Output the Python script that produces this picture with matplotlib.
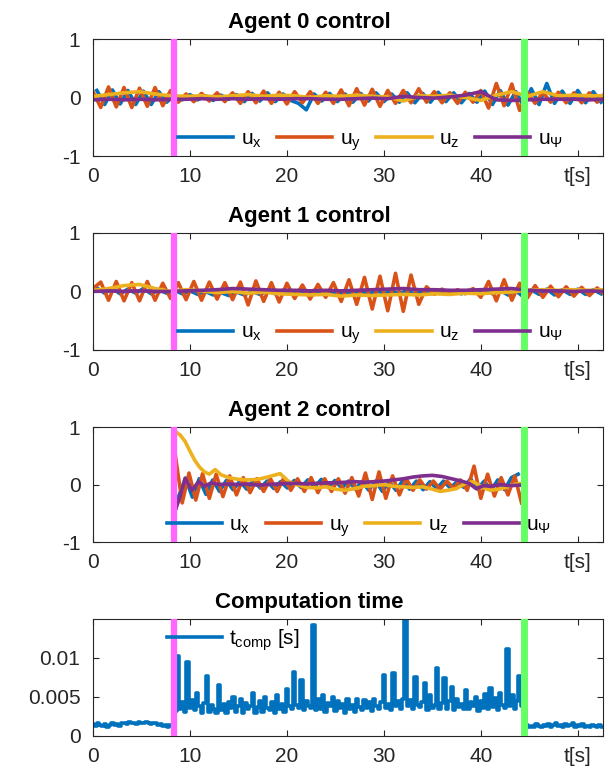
import numpy as np
import matplotlib
matplotlib.use("Agg")
import matplotlib.pyplot as plt

# ---------------------------------------------------------------------------
# Data
# ---------------------------------------------------------------------------

t_start = 8.4      # magenta marker
t_stop = 44.5      # green marker
x_max = 52.6

# agent 0 / agent 1: oscillating inputs sampled at their extrema
t_uy = np.arange(0, 53.0, 0.8)          # 67 samples
t_ux = np.arange(0.4, 52.5, 0.8)        # 66 samples
t_slow = np.arange(0, 53.0, 1.6)        # 34 samples

a0_uy = [0.10, -0.17, 0.18, -0.16, 0.17, -0.17, 0.16, -0.15, 0.17, -0.14, 0.12,
         -0.08, 0.06, -0.07, 0.07, -0.06, 0.08, -0.07, 0.08,
         -0.10, 0.10, -0.09, 0.11, -0.10, 0.09, -0.11, 0.10, -0.09, 0.10, -0.10, 0.09, -0.10,
         0.13, -0.14, 0.15, -0.13, 0.14, -0.15, 0.12,
         -0.10, 0.12, -0.09, 0.15, -0.08, 0.10, -0.09, 0.08, -0.10, 0.09, -0.08,
         0.12, -0.18, 0.24, -0.14, 0.23, -0.22,
         0.09, -0.10, 0.09, -0.08, 0.09, -0.09, 0.08, -0.09, 0.08, -0.08, 0.07]
a0_ux = [0.12, -0.12, 0.13, -0.11, 0.12, -0.12, 0.11, -0.12, 0.10, -0.08,
         0.04, -0.04, 0.05, -0.04, 0.03, -0.05, 0.04, -0.03, 0.05,
         -0.07, 0.07, -0.06, 0.08, -0.07, 0.06, -0.05,
         -0.10, -0.21, 0.06,
         -0.06, 0.07, -0.07, 0.06, -0.08, 0.07, -0.06, 0.08, -0.07, 0.06,
         -0.08, 0.08, -0.09, 0.07, -0.08, 0.09, -0.07, 0.08, -0.09, 0.07, -0.08,
         0.11, -0.12, 0.12, -0.13, 0.10,
         -0.14, 0.15, -0.12, 0.24, -0.10,
         0.11, -0.10, 0.12, -0.09, 0.10, -0.08]
a0_uz = [0.02, 0.05, 0.08, 0.10, 0.06, 0.03, 0.02, 0.03, 0.01, 0.03, 0.05, 0.02,
         0.04, 0.03, 0.00, 0.03, 0.02, 0.04, 0.02, 0.01, -0.06, 0.03, 0.02, 0.04,
         0.00, -0.05, 0.04, 0.10, 0.02, 0.10, 0.03, 0.04, 0.03, 0.03]
a0_upsi = [-0.04, -0.03, -0.04, -0.03, -0.04, -0.03, -0.03, -0.02, -0.03, -0.02,
           -0.03, -0.02, -0.03, -0.02, -0.02, -0.03, -0.03, -0.02, -0.01, -0.02,
           0.02, 0.00, -0.01, 0.01, 0.04, 0.10, -0.04, -0.05, -0.04, -0.03,
           -0.03, -0.03, -0.04, -0.03]

a1_uy = [0.05, 0.16, -0.15, 0.17, -0.16, 0.15, -0.16, 0.17, -0.15, 0.14, -0.12,
         0.15, -0.14, 0.17, -0.15, 0.16, -0.13, 0.15, -0.14,
         0.16, -0.23, 0.18, -0.17, 0.15, -0.18, 0.14,
         -0.12, 0.11, -0.13, 0.12, -0.10,
         0.15, -0.17, 0.20, -0.22, 0.24, -0.30, 0.26,
         -0.33, 0.31, -0.34, 0.28, -0.22,
         0.08, -0.05, 0.04, -0.05, 0.03, -0.04, 0.05,
         -0.10, 0.17, -0.16, 0.20, -0.15, 0.14,
         -0.11, 0.10, -0.10, 0.09, -0.09, 0.08, -0.08, 0.07, -0.07, 0.06, -0.06]
a1_ux = [0.06, -0.03, 0.05, -0.04, 0.04, -0.03, 0.05, -0.04, 0.03, -0.03,
         0.02, -0.04, 0.01, -0.05, 0.00, -0.06, -0.02, -0.07, -0.01,
         -0.06, 0.00, -0.05, 0.01, -0.04, 0.02, -0.03,
         0.02, -0.03, 0.02,
         -0.04, 0.01, -0.05, 0.00, -0.06, 0.01, -0.05, 0.02, -0.04, 0.01,
         -0.04, 0.02, -0.05, 0.01, -0.04, 0.02, -0.05, 0.01, -0.04, 0.02, -0.03,
         0.03, -0.04, 0.02, -0.06, 0.01,
         -0.09, 0.03, -0.05, 0.04, -0.06,
         0.03, -0.05, 0.04, -0.05, 0.03, -0.04]
a1_uz = [0.02, 0.05, 0.10, 0.12, 0.05, 0.00, 0.03, 0.01, -0.02, 0.00, -0.03, -0.01,
         -0.04, -0.05, -0.06, -0.05, -0.08, -0.06, -0.07, -0.06, -0.05, -0.06,
         -0.04, -0.05, -0.03, -0.04, -0.02, -0.01, 0.02, 0.03, 0.02, 0.03, 0.02, 0.03]
a1_upsi = [0.00, 0.01, 0.00, 0.01, 0.00, 0.00, 0.01, 0.02, 0.03, 0.05, 0.04, 0.03,
           0.02, 0.02, 0.01, 0.02, 0.01, 0.02, 0.03, 0.04, 0.05, 0.03, 0.03, 0.02,
           0.02, 0.03, 0.04, 0.05, 0.02, 0.01, 0.01, 0.00, 0.01, 0.00]

# agent 2 only runs between the two markers
t2_uy = np.arange(8.5, 44.3, 0.7)                       # 52 samples
t2_ux = np.r_[8.5, np.arange(8.85, 44.3, 0.7)]          # 52 samples
a2_uy = [0.50, -0.32, 0.20, -0.27, 0.19, -0.24, 0.18, -0.21, 0.15, -0.18,
         0.12, -0.14, 0.10, -0.12, 0.10, -0.12, 0.12, -0.10, 0.10, -0.12,
         0.12, -0.14, 0.10, -0.12, 0.10, -0.15, 0.12, -0.20, 0.20, -0.26,
         0.22, -0.24, 0.15, -0.18, 0.10, -0.10, 0.08, -0.08, 0.06, -0.08,
         0.06, -0.07, 0.08, -0.10, 0.32, -0.24, 0.18, -0.20, 0.12, -0.18,
         0.15, -0.32]
a2_ux = [-0.44, -0.20, 0.11, -0.22, 0.10, -0.17, 0.08, -0.12, 0.07, -0.09,
         0.06, -0.08, 0.07, -0.06, 0.06, -0.07, 0.05, -0.06, 0.07, -0.05,
         0.08, -0.04, 0.09, -0.05, 0.07, -0.06, 0.06, -0.08, 0.05, -0.10,
         0.06, -0.12, 0.05, -0.10, 0.07, -0.08, 0.06, -0.09, 0.05, -0.07,
         0.06, -0.06, 0.05, -0.05, 0.10, -0.08, 0.06, -0.10, 0.08, -0.09,
         0.12, 0.18]
t2_uz = [8.5, 9.0, 9.5, 10.0, 10.5, 11.0, 11.5, 12.0, 12.6, 13.2, 14.0, 15.0,
         16.0, 17.0, 18.0, 19.3, 20.2, 21.0, 22.0, 23.0, 24.0, 25.0, 26.0, 27.0,
         28.0, 29.0, 30.0, 31.0, 32.0, 33.0, 34.0, 35.0, 35.8, 36.6, 37.5, 38.4,
         39.2, 40.2, 41.0, 42.0, 43.0, 44.0, 44.5]
a2_uz = [0.92, 0.86, 0.75, 0.58, 0.42, 0.30, 0.22, 0.18, 0.26, 0.17, 0.12, 0.09,
         0.08, 0.09, 0.13, 0.19, 0.05, 0.00, -0.05, -0.06, -0.04, -0.08, -0.10, -0.07,
         -0.03, -0.02, 0.00, -0.03, -0.04, -0.05, -0.04, -0.08, -0.12, -0.10, -0.07, 0.02,
         0.05, -0.05, -0.10, -0.08, -0.02, 0.02, 0.00]
t2_upsi = [8.5, 8.9, 9.5, 10.2, 10.9, 11.5, 12.2, 13.0, 14, 15, 16, 17, 18, 19,
           20, 21, 22, 23, 24, 25, 26, 27, 28, 29, 30, 31, 32, 33, 34, 35, 36,
           37, 38, 38.8, 39.5, 40.3, 41.0, 42.0, 43.0, 44.0, 44.5]
a2_upsi = [-0.44, -0.25, 0.11, -0.10, 0.05, -0.03, 0.03, 0.00, 0.01, 0.00, 0.01,
           -0.01, 0.00, 0.01, 0.02, 0.02, 0.01, 0.02, 0.03, 0.03, 0.04, 0.05, 0.04,
           0.05, 0.06, 0.08, 0.10, 0.13, 0.15, 0.16, 0.14, 0.10, 0.06, 0.02, -0.07,
           -0.02, -0.03, 0.00, -0.02, -0.01, -0.02]

# computation time, in units of 1e-4 s, every 0.25 s
t_comp = np.arange(0, 52.51, 0.25)
comp_e4 = [15, 13, 16, 14, 13, 15, 12, 14, 16, 14, 15, 13, 16, 17, 15, 18, 16,
           17, 15, 18, 17, 16, 18, 17, 15, 17, 16, 14, 15, 13, 14, 12, 14, 13,
           32, 102, 34, 44, 31, 95, 36, 46,
           33, 55, 38, 30, 42, 77, 31, 40,
           35, 29, 65, 33, 41, 30, 44, 36,
           50, 31, 38, 48, 30, 42, 34, 39,
           55, 30, 37, 45, 31, 50, 36, 33,
           44, 30, 52, 35, 41, 31, 60, 38,
           34, 82, 40, 36, 72, 33, 45, 39,
           36, 142, 33, 47, 35, 52, 31, 42,
           38, 50, 32, 45, 36, 41, 30, 47,
           35, 40, 31, 48, 37, 33, 46, 36,
           43, 32, 47, 38, 35, 44, 78, 36,
           41, 33, 81, 39, 45, 34, 48, 152,
           38, 46, 35, 76, 40, 37, 44, 68,
           33, 52, 36, 40, 87, 35, 42, 74,
           34, 45, 63, 33, 48, 37, 41, 35,
           59, 34, 43, 38, 50, 32, 45, 36,
           54, 35, 61, 37, 49, 33, 55, 40,
           36, 111, 38, 53, 34, 45, 77, 39,
           35,
           14, 11, 13, 12, 15, 13, 12, 14, 13, 15, 12, 14, 16, 13, 14, 12, 15,
           13, 14, 16, 12, 14, 13, 15, 12, 13, 11, 14, 13, 12, 14, 12]
comp = np.array(comp_e4) * 1e-4

# ---------------------------------------------------------------------------
# Style
# ---------------------------------------------------------------------------

plt.rcParams["font.family"] = ["Liberation Sans", "DejaVu Sans"]
plt.rcParams["mathtext.fontset"] = "custom"
plt.rcParams["mathtext.rm"] = "Liberation Sans"
plt.rcParams["mathtext.it"] = "Liberation Sans:italic"
plt.rcParams["mathtext.default"] = "regular"
plt.rcParams["axes.unicode_minus"] = False

c_ux, c_uy, c_uz, c_upsi = "#0072BD", "#D95319", "#EDB120", "#7E2F8E"
c_start, c_stop = "#FF66FF", "#66FF66"
lw = 2.6
fs = 15

fig = plt.figure(figsize=(6.11, 7.77), dpi=100)
left, width = 0.1522, 0.8347
positions = [(0.7992, 0.1506), (0.5496, 0.1506), (0.3024, 0.1480), (0.0528, 0.1506)]
axes = [fig.add_axes([left, b, width, h]) for b, h in positions]


def style_axis(ax, title):
    ax.set_xlim(0, x_max)
    ax.set_xticks([0, 10, 20, 30, 40, 50])
    ax.set_xticklabels(["0", "10", "20", "30", "40", "t[s]"])
    ax.tick_params(direction="in", length=4, width=0.8, labelsize=fs,
                   top=True, right=True, colors="#262626")
    ax.tick_params(axis="y", pad=9)
    ax.tick_params(axis="x", pad=8)
    for s in ax.spines.values():
        s.set_color("#262626")
        s.set_linewidth(0.8)
    # titles sit left of the axes centre in the original
    ax.set_title(title, fontsize=16, fontweight="bold", pad=8, x=0.424)
    ax.axvline(t_start, color=c_start, lw=4.5, zorder=4)
    ax.axvline(t_stop, color=c_stop, lw=5, zorder=4)


# ---------------------------------------------------------------------------
# Control panels
# ---------------------------------------------------------------------------

agents = [
    ((t_ux, a0_ux), (t_uy, a0_uy), (t_slow, a0_uz), (t_slow, a0_upsi)),
    ((t_ux, a1_ux), (t_uy, a1_uy), (t_slow, a1_uz), (t_slow, a1_upsi)),
    ((t2_ux, a2_ux), (t2_uy, a2_uy), (t2_uz, a2_uz), (t2_upsi, a2_upsi)),
]
labels = [r"$u_x$", r"$u_y$", r"$u_z$", r"$u_\Psi$"]
colors = [c_ux, c_uy, c_uz, c_upsi]
legend_x = [0.167, 0.167, 0.145]

for i, (ax, series) in enumerate(zip(axes[:3], agents)):
    for (tt, vv), lab, col in zip(series, labels, colors):
        ax.plot(tt, vv, color=col, lw=lw, label=lab, solid_joinstyle="round")
    ax.set_ylim(-1, 1)
    ax.set_yticks([-1, 0, 1])
    style_axis(ax, f"Agent {i} control")
    ax.legend(ncol=4, loc="lower left", bbox_to_anchor=(legend_x[i], 0.03),
              frameon=False, fontsize=fs, handlelength=2.65,
              handletextpad=0.35, columnspacing=0.75, borderpad=0,
              borderaxespad=0)

# ---------------------------------------------------------------------------
# Computation time
# ---------------------------------------------------------------------------

ax = axes[3]
ax.plot(t_comp, comp, color=c_ux, lw=lw, drawstyle="steps-mid",
        label=r"$t_{comp}$ [s]")
ax.set_ylim(0, 0.015)
ax.set_yticks([0, 0.005, 0.01])
ax.set_yticklabels(["0", "0.005", "0.01"])
style_axis(ax, "Computation time")
ax.legend(loc="upper left", bbox_to_anchor=(0.145, 0.93), frameon=False,
          fontsize=fs, handlelength=2.65, handletextpad=0.35,
          borderpad=0, borderaxespad=0)

fig.savefig("out.png", dpi=100)
